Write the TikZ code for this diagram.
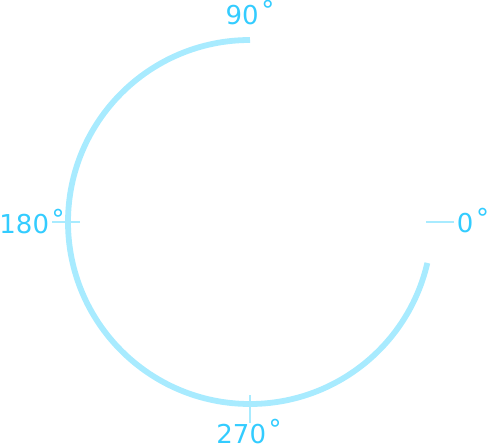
\documentclass[tikz,border=0pt]{standalone}
\usepackage{fontspec}
\setmainfont{DejaVu Sans}
\usetikzlibrary{positioning}
\definecolor{dialArc}{HTML}{A8EBFF}
\definecolor{dialText}{HTML}{33CCFF}
\newcommand{\angdeg}{\kern2.5pt\raisebox{5pt}{°}}

\begin{document}
\begin{tikzpicture}[x=1pt,y=1pt,
    arcline/.style={draw=dialArc,line width=5.8pt},
    tickline/.style={draw=dialArc,line width=2.5pt},
    anglabel/.style={text=dialText,font=\fontsize{26}{30}\selectfont,inner sep=0pt,anchor=base}]
  \useasboundingbox (0,0) rectangle (489,447);
  \coordinate (centre) at (250,225);
  % open ring
  \draw[arcline] (centre) ++(90:182) arc[start angle=90,end angle=347,radius=182];
  % ticks
  \draw[tickline] (centre) ++(0:176) -- ++(0:28);
  \draw[tickline] (centre) ++(180:170) -- ++(180:28);
  \draw[tickline] (centre) ++(270:173) -- ++(270:28);
  % labels
  \node[anglabel] (lbl90) at (250,422) {90\angdeg};
  \node[anglabel] (lbl0) at (473,214) {0\angdeg};
  \node[anglabel] (lbl180) at (32,213) {180\angdeg};
  \node[anglabel] (lbl270) at (249,4) {270\angdeg};
\end{tikzpicture}
\end{document}
